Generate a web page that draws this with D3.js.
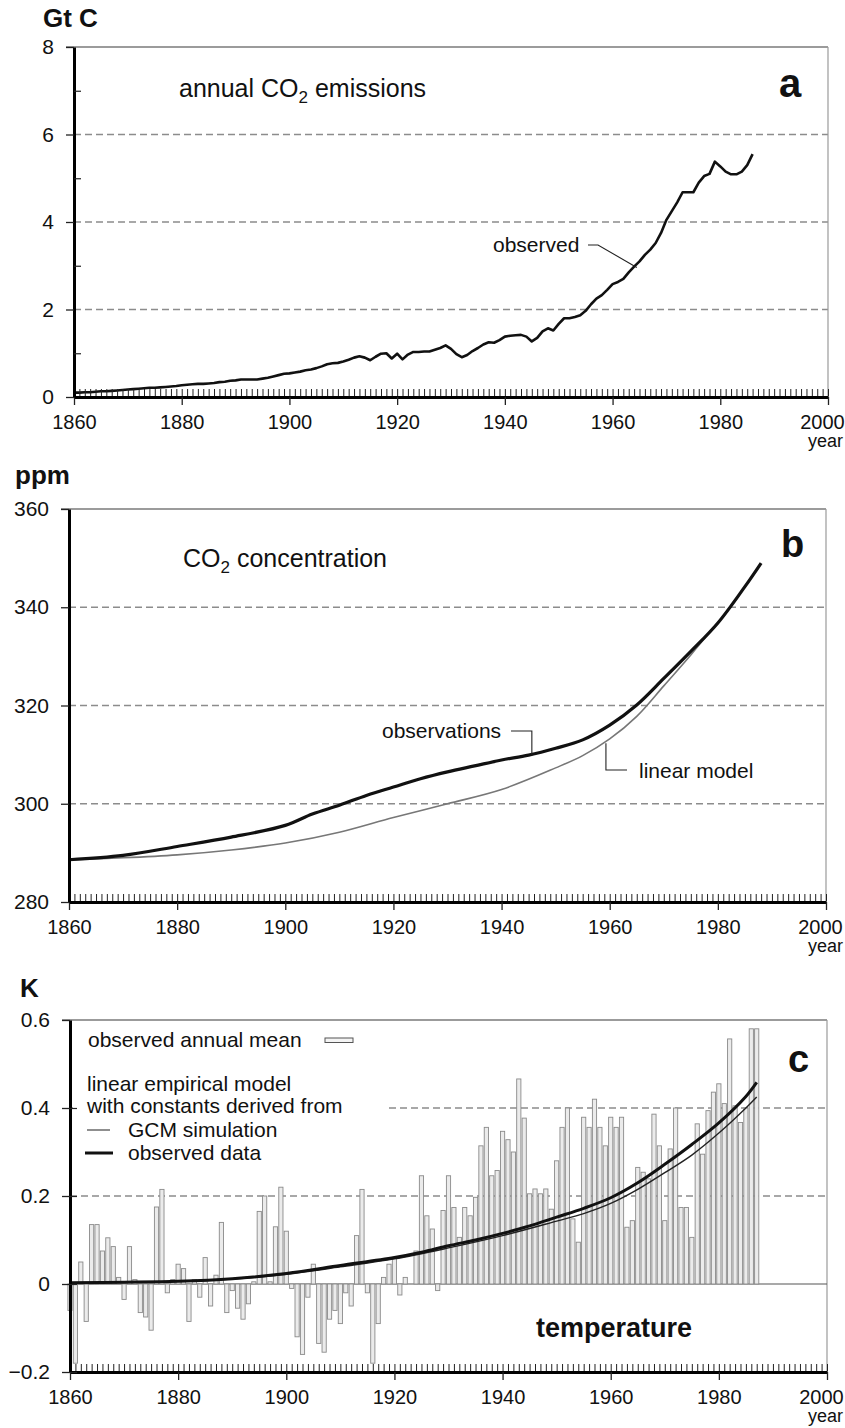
<!DOCTYPE html>
<html><head><meta charset="utf-8">
<script src="https://cdn.jsdelivr.net/npm/d3@7"></script>
<style>
body{margin:0;background:#fff}
svg{display:block}
text{font-family:"Liberation Sans",Arial,Helvetica,sans-serif;fill:#111}
</style>
</head><body>
<svg id="chart" width="845" height="1428"></svg>
<script>
// ---------------- DATA ----------------
const xTickYears = [1860, 1880, 1900, 1920, 1940, 1960, 1980, 2000];

// (a) annual CO2 emissions, Gt C, one value per year from 1860
const emissionsStart = 1860;
const emissions = [
  0.10,0.10,0.11,0.11,0.12,0.13,0.13,0.14,0.15,0.16,
  0.17,0.18,0.19,0.20,0.21,0.21,0.22,0.23,0.24,0.25,
  0.27,0.28,0.29,0.30,0.30,0.31,0.32,0.34,0.35,0.37,
  0.38,0.40,0.40,0.40,0.40,0.42,0.44,0.47,0.50,0.53,
  0.54,0.56,0.58,0.61,0.63,0.66,0.70,0.75,0.77,0.78,
  0.81,0.85,0.90,0.93,0.90,0.84,0.92,0.99,1.00,0.88,
  0.99,0.86,0.97,1.03,1.03,1.04,1.04,1.08,1.12,1.18,
  1.10,0.98,0.91,0.96,1.05,1.12,1.20,1.25,1.24,1.30,
  1.38,1.40,1.41,1.42,1.38,1.27,1.35,1.50,1.57,1.52,
  1.67,1.80,1.80,1.83,1.87,1.97,2.12,2.25,2.33,2.45,
  2.58,2.63,2.70,2.85,2.98,3.10,3.25,3.37,3.52,3.75,
  4.05,4.25,4.45,4.68,4.68,4.68,4.90,5.05,5.10,5.38,
  5.27,5.15,5.09,5.09,5.15,5.30,5.55
];
const aTicks = [0, 2, 4, 6, 8];
const aGrid = [2, 4, 6];
const aMinor = [1, 3, 5, 7];

// (b) CO2 concentration, ppm  [year, value]
const co2Observed = [
  [1860,288.6],[1870,289.5],[1880,291.3],[1890,293.2],[1900,295.6],[1905,297.9],
  [1910,299.7],[1915,301.7],[1920,303.4],[1925,305.1],[1930,306.5],[1935,307.7],
  [1940,308.9],[1945,309.9],[1950,311.3],[1955,313.0],[1960,316.0],[1965,320.1],
  [1970,325.5],[1975,331.0],[1980,336.8],[1985,344.2],[1988,349.0]
];
const co2Linear = [
  [1860,288.6],[1870,289.0],[1880,289.6],[1890,290.6],[1900,292.0],[1910,294.2],
  [1920,297.2],[1930,300.0],[1940,302.9],[1950,307.3],[1955,309.8],[1960,313.2],
  [1965,317.8],[1970,324.0],[1975,330.3],[1979,335.6]
];
const bTicks = [280, 300, 320, 340, 360];
const bGrid = [300, 320, 340];

// (c) temperature, K: observed annual mean, one value per year from 1860
const tempStart = 1860;
const tempAnomaly = [
  -0.06,-0.18,0.05,-0.085,0.135,0.135,0.075,0.105,0.085,0.015,
  -0.035,0.085,0.01,-0.065,-0.075,-0.105,0.175,0.215,-0.02,0.01,
  0.045,0.035,-0.085,0.01,-0.03,0.06,-0.05,0.02,0.14,-0.065,
  -0.015,-0.055,-0.08,-0.045,0.005,0.165,0.2,0.005,0.13,0.22,
  0.12,-0.01,-0.12,-0.16,-0.03,0.045,-0.135,-0.155,-0.08,-0.06,
  -0.09,-0.02,-0.05,0.11,0.215,-0.02,-0.18,-0.09,0.015,0.045,
  0.06,-0.025,0.015,0.0,0.075,0.246,0.155,0.125,-0.015,0.167,
  0.246,0.174,0.106,0.174,0.155,0.197,0.314,0.356,0.246,0.258,
  0.347,0.328,0.300,0.466,0.377,0.205,0.216,0.205,0.216,0.17,
  0.28,0.356,0.40,0.148,0.095,0.379,0.356,0.42,0.356,0.314,
  0.379,0.356,0.379,0.129,0.144,0.265,0.254,0.239,0.386,0.314,
  0.144,0.307,0.40,0.174,0.174,0.106,0.364,0.295,0.394,0.436,
  0.455,0.41,0.557,0.405,0.367,0.40,0.58,0.58
];
// linear empirical model, constants from observed data / GCM simulation
const modelObserved = [
  [1860,0.003],[1870,0.004],[1880,0.006],[1890,0.012],[1900,0.024],[1910,0.042],
  [1920,0.060],[1925,0.072],[1930,0.087],[1935,0.100],[1940,0.115],[1945,0.132],
  [1950,0.152],[1955,0.172],[1960,0.196],[1965,0.230],[1970,0.272],[1975,0.317],
  [1980,0.366],[1985,0.426],[1987,0.458]
];
const modelGCM = [
  [1860,0.003],[1870,0.004],[1880,0.006],[1890,0.011],[1900,0.022],[1910,0.039],
  [1920,0.057],[1930,0.082],[1940,0.110],[1950,0.143],[1955,0.160],[1960,0.183],
  [1965,0.215],[1970,0.253],[1975,0.293],[1980,0.343],[1985,0.400],[1987,0.425]
];
const cTicks = [-0.2, 0, 0.2, 0.4, 0.6];
const cGrid = [0.2, 0.4];

// ---------------- DRAWING ----------------
const svg = d3.select("#chart");
const yearsAll = d3.range(1860, 2001);

function text(g, x, y, s, o = {}) {
  return g.append("text").attr("x", x).attr("y", y)
    .attr("font-size", o.size || 21)
    .attr("font-weight", o.bold ? "bold" : null)
    .attr("text-anchor", o.anchor || "start")
    .text(s);
}

function panel(p) {
  const x = d3.scaleLinear().domain([1860, 2000]).range([p.x0, p.x1]);
  const y = d3.scaleLinear().domain(p.domain).range([p.yBot, p.yTop]);
  const g = svg.append("g");

  // grid
  g.selectAll(null).data(p.grid).join("line")
    .attr("x1", p.x0)
    .attr("x2", p.x1)
    .attr("y1", d => y(d)).attr("y2", d => y(d))
    .attr("stroke", "#8c8c8c").attr("stroke-width", 1.3)
    .attr("stroke-dasharray", "7,4");

  // top & right frame
  g.append("line").attr("x1", p.x0 - 8).attr("x2", p.x1)
    .attr("y1", p.yTop).attr("y2", p.yTop)
    .attr("stroke", "#7a7a7a").attr("stroke-width", 1.6);
  g.append("line").attr("x1", p.x1).attr("x2", p.x1)
    .attr("y1", p.yTop).attr("y2", p.yBot)
    .attr("stroke", "#9a9a9a").attr("stroke-width", 1.2);

  const layer = g.append("g");

  // yearly minor ticks on bottom axis
  const minorX = g.append("g").attr("transform", `translate(0,${p.yBot - 1})`)
    .call(d3.axisTop(x).tickValues(yearsAll).tickSize(7).tickFormat(""));
  minorX.select(".domain").remove();
  minorX.selectAll("line").attr("stroke", "#222").attr("stroke-width", 1);

  // bottom axis with major ticks
  const ax = g.append("g").attr("transform", `translate(0,${p.yBot})`)
    .call(d3.axisBottom(x).tickValues(xTickYears).tickSize(8).tickSizeOuter(0)
      .tickPadding(10).tickFormat(d3.format("d")));
  ax.select(".domain").attr("stroke", "#000").attr("stroke-width", 3);
  ax.selectAll(".tick line").attr("stroke", "#222").attr("stroke-width", 1.3);
  ax.selectAll("text").attr("font-size", 20).attr("fill", "#111")
    .attr("font-family", '"Liberation Sans",Arial,sans-serif')
    .attr("dx", d => d === 2000 ? -6 : 0);
  ax.attr("font-size", null).attr("font-family", null);

  // left axis
  const ay = g.append("g").attr("transform", `translate(${p.x0},0)`)
    .call(d3.axisLeft(y).tickValues(p.ticks).tickSize(8).tickSizeOuter(0)
      .tickPadding(12).tickFormat(p.fmt));
  ay.select(".domain").attr("stroke", "#000").attr("stroke-width", 3);
  ay.selectAll(".tick line").attr("stroke", "#222").attr("stroke-width", 1.3);
  ay.selectAll("text").attr("font-size", 21).attr("fill", "#111")
    .attr("font-family", '"Liberation Sans",Arial,sans-serif');
  ay.attr("font-size", null).attr("font-family", null);

  if (p.inner) {
    const ai = g.append("g").attr("transform", `translate(${p.x0},0)`)
      .call(d3.axisRight(y).tickValues(p.inner).tickSize(7).tickFormat(""));
    ai.select(".domain").remove();
    ai.selectAll("line").attr("stroke", "#222").attr("stroke-width", 1.2);
  }

  text(g, 843, p.yBot + 50, "year", {size: 18, anchor: "end"});
  return {x, y, g, layer};
}

// ---------- panel a ----------
const A = panel({x0: 74, x1: 828, yTop: 47, yBot: 397, domain: [0, 8],
  ticks: aTicks, grid: aGrid, inner: aMinor, fmt: d3.format("d")});
A.layer.append("path")
  .datum(emissions)
  .attr("d", d3.line().x((d, i) => A.x(emissionsStart + i)).y(d => A.y(d)))
  .attr("fill", "none").attr("stroke", "#111").attr("stroke-width", 2.6)
  .attr("stroke-linejoin", "round");
text(A.g, 43, 27, "Gt C", {size: 26, bold: true});
const ta = text(A.g, 179, 97, "annual CO", {size: 25});
ta.append("tspan").attr("font-size", 17).attr("dy", 6).text("2");
ta.append("tspan").attr("dy", -6).text(" emissions");
text(A.g, 779, 97, "a", {size: 40, bold: true});
text(A.g, 493, 252, "observed", {size: 21});
A.layer.append("path")
  .attr("d", d3.line()([[588, 245], [598, 245], [A.x(1964.5), A.y(2.96)]]))
  .attr("fill", "none").attr("stroke", "#222").attr("stroke-width", 1.1);

// ---------- panel b ----------
const B = panel({x0: 69, x1: 826, yTop: 509, yBot: 902, domain: [280, 360],
  ticks: bTicks, grid: bGrid, fmt: d3.format("d")});
const lineB = d3.line().x(d => B.x(d[0])).y(d => B.y(d[1])).curve(d3.curveCatmullRom);
B.layer.append("path").datum(co2Linear).attr("d", lineB)
  .attr("fill", "none").attr("stroke", "#777").attr("stroke-width", 1.6);
B.layer.append("path").datum(co2Observed).attr("d", lineB)
  .attr("fill", "none").attr("stroke", "#111").attr("stroke-width", 3.2);
text(B.g, 15, 484, "ppm", {size: 26, bold: true});
const tb = text(B.g, 183, 567, "CO", {size: 25});
tb.append("tspan").attr("font-size", 17).attr("dy", 6).text("2");
tb.append("tspan").attr("dy", -6).text(" concentration");
text(B.g, 781, 557, "b", {size: 38, bold: true});
text(B.g, 382, 738, "observations", {size: 21});
B.layer.append("path")
  .attr("d", d3.line()([[511, 731], [B.x(1945.6), 731], [B.x(1945.6), B.y(310.0)]]))
  .attr("fill", "none").attr("stroke", "#222").attr("stroke-width", 1.1);
text(B.g, 639, 778, "linear model", {size: 21});
B.layer.append("path")
  .attr("d", d3.line()([[B.x(1959.3), B.y(312.3)], [B.x(1959.3), 770], [627, 770]]))
  .attr("fill", "none").attr("stroke", "#222").attr("stroke-width", 1.1);

// ---------- panel c ----------
const C = panel({x0: 70, x1: 827, yTop: 1020, yBot: 1372, domain: [-0.2, 0.6],
  ticks: cTicks, grid: cGrid, inner: [-0.2, 0, 0.2, 0.4],
  fmt: d => d === 0 ? "0" : d3.format(".1f")(d)});
// legend white box (covers grid)
C.layer.append("rect").attr("x", 73).attr("y", 1023).attr("width", 314).attr("height", 150)
  .attr("fill", "#fff");
// zero line
C.layer.append("line").attr("x1", 70).attr("x2", 827)
  .attr("y1", C.y(0)).attr("y2", C.y(0))
  .attr("stroke", "#555").attr("stroke-width", 1.2);
// bars
const bw = 4.2;
C.layer.selectAll(null).data(tempAnomaly).join("rect")
  .attr("x", (d, i) => C.x(tempStart + i) - bw / 2)
  .attr("width", bw)
  .attr("y", d => C.y(Math.max(d, 0)))
  .attr("height", d => Math.abs(C.y(d) - C.y(0)))
  .attr("fill", "#ebebeb").attr("stroke", "#8a8a8a").attr("stroke-width", 0.9);
const lineC = d3.line().x(d => C.x(d[0])).y(d => C.y(d[1])).curve(d3.curveCatmullRom);
C.layer.append("path").datum(modelGCM).attr("d", lineC)
  .attr("fill", "none").attr("stroke", "#222").attr("stroke-width", 1.4);
C.layer.append("path").datum(modelObserved).attr("d", lineC)
  .attr("fill", "none").attr("stroke", "#111").attr("stroke-width", 3);

text(C.g, 20, 997, "K", {size: 26, bold: true});
text(C.g, 788, 1072, "c", {size: 38, bold: true});
text(C.g, 88, 1047, "observed annual mean", {size: 21});
C.layer.append("rect").attr("x", 325).attr("y", 1038).attr("width", 28).attr("height", 4.5)
  .attr("fill", "#f4f4f4").attr("stroke", "#555").attr("stroke-width", 1);
text(C.g, 87, 1091, "linear empirical model", {size: 21});
text(C.g, 87, 1113, "with constants derived from", {size: 21});
C.g.append("line").attr("x1", 87).attr("x2", 110).attr("y1", 1130).attr("y2", 1130)
  .attr("stroke", "#444").attr("stroke-width", 1.2);
text(C.g, 128, 1137, "GCM simulation", {size: 21});
C.g.append("line").attr("x1", 85).attr("x2", 113).attr("y1", 1153).attr("y2", 1153)
  .attr("stroke", "#111").attr("stroke-width", 3);
text(C.g, 128, 1160, "observed data", {size: 21});
text(C.g, 614, 1337, "temperature", {size: 27, bold: true, anchor: "middle"});
</script>
</body></html>
